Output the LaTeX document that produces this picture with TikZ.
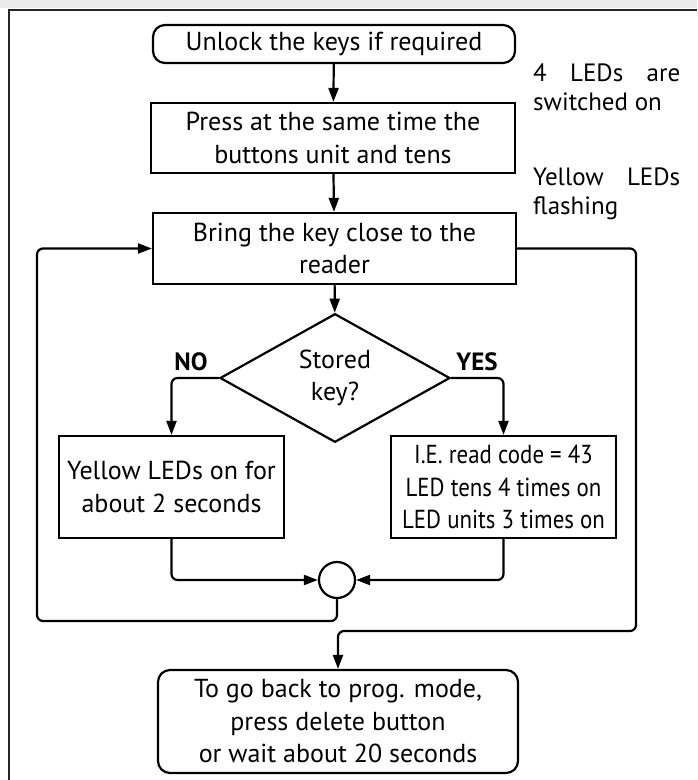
\documentclass[tikz,border=0pt]{standalone}
\usepackage{fontspec}
\setmainfont{PT Sans}
\usetikzlibrary{arrows.meta,shapes.geometric}
\begin{document}
\begin{tikzpicture}[x=1pt,y=-1pt,
  every node/.style={font=\fontsize{26}{32.5}\selectfont},
  box/.style={draw,line width=2.2pt,minimum width=#1,inner sep=0pt,align=center},
  rbox/.style={box=#1,rounded corners=12pt},
  con/.style={line width=2.2pt,rounded corners=6pt},
  arr/.style={con,-{Triangle[length=14pt,width=10pt]}},
  lbl/.style={font=\fontsize{25}{28}\selectfont\bfseries}]
\useasboundingbox (0,0) rectangle (697,780);
\fill[black!8] (0,0) rectangle (697,8);
\draw[line width=1.5pt,black!85] (9,780) -- (9,10) -- (697,10);

\node[rbox=362pt,minimum height=38pt] (unlock) at (334,44) {Unlock the keys if required};
\node[box=364pt,minimum height=70pt] (press) at (333,138) {Press at the same time the\\buttons unit and tens};
\node[box=363pt,minimum height=71pt] (bring) at (334.5,248.5) {Bring the key close to the\\reader};
\node[draw,line width=2.2pt,diamond,minimum width=230pt,minimum height=110pt,inner sep=0pt,align=center] (stored) at (335,378) {Stored\\key?};
\node[box=225pt,minimum height=102pt] (no) at (171.5,487) {Yellow LEDs on for\\about 2 seconds};
\node[box=225pt,minimum height=102pt,font=\fontsize{26}{32.5}\selectfont\addfontfeature{FakeStretch=0.88}] (yes) at (503.5,487) {I.E. read code = 43\\LED tens 4 times on\\LED units 3 times on};
\node[draw,circle,line width=2.2pt,minimum size=36pt,inner sep=0pt] (join) at (337,580) {};
\node[rbox=360pt,minimum height=103pt] (back) at (338,721.5) {To go back to prog. mode,\\press delete button\\or wait about 20 seconds};

\node[anchor=west,align=left,inner sep=0pt,font=\fontsize{25}{29}\selectfont] (note1) at (533,87) {\hbox to 147pt{4\hfill LEDs\hfill are}\\switched on};
\node[anchor=west,align=left,inner sep=0pt,font=\fontsize{25}{29}\selectfont] (note2) at (533,194) {\hbox to 147pt{Yellow\hfill LEDs}\\flashing};

\node[lbl] (nolbl) at (191,362) {NO};
\node[lbl] (yeslbl) at (477,362) {YES};

\draw[arr] (unlock) -- (press);
\draw[arr] (press) -- (bring);
\draw[arr] (bring) -- (stored);
\draw[arr] (stored.west) -| (no.north);
\draw[arr] (stored.east) -| (yes.north);
\draw[arr] (no.south) |- (join.west);
\draw[arr] (yes.south) |- (join.east);
\draw[arr] (join.south) -- (337,621) -- (37,621) |- (bring.west);
\draw[arr] (bring.east) -- (636,248.5) -- (636,631) -- (338,631) -- (back.north);
\end{tikzpicture}
\end{document}
